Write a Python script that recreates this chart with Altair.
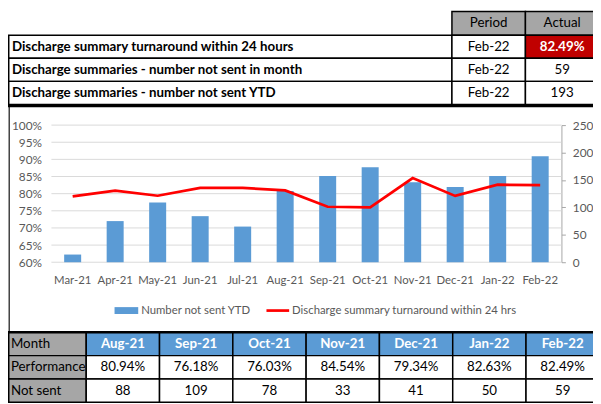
import altair as alt
import pandas as pd

# ---------------- data ----------------
months = ["Mar-21", "Apr-21", "May-21", "Jun-21", "Jul-21", "Aug-21",
          "Sep-21", "Oct-21", "Nov-21", "Dec-21", "Jan-22", "Feb-22"]
not_sent_ytd = [14, 75, 109, 84, 65, 130, 157, 173, 146, 137, 157, 193]
turnaround_pct = [79.2, 80.9, 79.4, 81.7, 81.7, 80.94, 76.18, 76.03, 84.54, 79.34, 82.63, 82.49]

left_ticks = [60, 65, 70, 75, 80, 85, 90, 95, 100]
right_ticks = [0, 50, 100, 150, 200, 250]

kpi_headers = ["Period", "Actual"]
kpi_labels = ["Discharge summary turnaround within 24 hours",
              "Discharge summaries - number not sent in month",
              "Discharge summaries - number not sent YTD"]
kpi_periods = ["Feb-22", "Feb-22", "Feb-22"]
kpi_actuals = ["82.49%", "59", "193"]

table_rows = ["Month", "Performance", "Not sent"]
table_months = ["Aug-21", "Sep-21", "Oct-21", "Nov-21", "Dec-21", "Jan-22", "Feb-22"]
table_performance = ["80.94%", "76.18%", "76.03%", "84.54%", "79.34%", "82.63%", "82.49%"]
table_not_sent = [88, 109, 78, 33, 41, 50, 59]

bar_name = "Number not sent YTD"
line_name = "Discharge summary turnaround within 24 hrs"

# ---------------- layout / style ----------------
W, H = 593, 396
PX0, PX1 = 44, 561          # plot area x
PY0, PY1 = 255, 116         # plot area y (bottom, top)
STEP = (PX1 - PX0) / len(months)
FONT = "Lato, 'Liberation Sans', sans-serif"
AXIS_GREY = "#595959"
BLUE = "#5b9bd5"
HEAD_GREY = "#a6a6a6"
TFS = 13.5   # table font size
AFS = 11.5   # axis font size
one = pd.DataFrame({"k": [0]})

series = pd.DataFrame({"month": months, "ytd": not_sent_ytd, "pct": turnaround_pct})

# ---------------- main chart ----------------
grid = alt.Chart(pd.DataFrame({"tick": left_ticks})).mark_rule(color="#d9d9d9", strokeWidth=1).encode(
    y=alt.Y("tick:Q", scale=alt.Scale(domain=[60, 100], range=[PY0, PY1], nice=False, zero=False), axis=None),
    x=alt.value(PX0), x2=alt.value(PX1))

bars = alt.Chart(series).mark_bar(color=BLUE).encode(
    x=alt.X("month:N", sort=months,
            scale=alt.Scale(domain=months, range=[PX0, PX1], paddingInner=0.6, paddingOuter=0.3),
            axis=alt.Axis(orient="bottom", offset=-(H - PY0), domain=False, ticks=False, tickSize=0,
                          labelPadding=13, labelColor=AXIS_GREY, labelFont=FONT, labelFontSize=AFS,
                          labelAngle=0, title=None, grid=False)),
    y=alt.Y("ytd:Q", scale=alt.Scale(domain=[0, 250], range=[PY0, PY1], nice=False),
            axis=alt.Axis(orient="right", offset=-(W - PX1), values=right_ticks, grid=False,
                          domainColor=HEAD_GREY, tickColor=HEAD_GREY, tickSize=4, labelPadding=7,
                          labelColor=AXIS_GREY, labelFont=FONT, labelFontSize=12, title=None)))

line = alt.Chart(series).mark_line(color="#ff0000", strokeWidth=2.75).encode(
    x=alt.X("month:N", sort=months,
            scale=alt.Scale(type="point", domain=months, range=[PX0 + STEP / 2, PX1 - STEP / 2], padding=0),
            axis=None),
    y=alt.Y("pct:Q", scale=alt.Scale(domain=[60, 100], range=[PY0, PY1], nice=False, zero=False),
            axis=alt.Axis(orient="left", offset=-PX0, values=left_ticks, labelExpr="datum.value + '%'",
                          domain=False, ticks=False, tickSize=0, labelPadding=10, grid=False,
                          labelColor=AXIS_GREY, labelFont=FONT, labelFontSize=12, title=None)))

# legend
leg_bar = alt.Chart(one).mark_rect(color=BLUE).encode(
    x=alt.value(108), x2=alt.value(132), y=alt.value(300.5), y2=alt.value(307.5))
leg_bar_txt = alt.Chart(pd.DataFrame({"t": [bar_name]})).mark_text(
    align="left", baseline="middle", font=FONT, fontSize=AFS, color=AXIS_GREY).encode(
    text="t:N", x=alt.value(135), y=alt.value(304))
leg_line = alt.Chart(one).mark_rule(color="#ff0000", strokeWidth=2.75).encode(
    x=alt.value(262), x2=alt.value(285), y=alt.value(304))
leg_line_txt = alt.Chart(pd.DataFrame({"t": [line_name]})).mark_text(
    align="left", baseline="middle", font=FONT, fontSize=AFS, color=AXIS_GREY).encode(
    text="t:N", x=alt.value(288), y=alt.value(304))

frame_left = alt.Chart(one).mark_rule(color="#404040", strokeWidth=1.5).encode(
    x=alt.value(1.25), y=alt.value(97), y2=alt.value(326))

# ---------------- top KPI table ----------------
kpi_head_df = pd.DataFrame({"h": kpi_headers})
head_x = alt.X("h:N", sort=kpi_headers,
               scale=alt.Scale(domain=kpi_headers, range=[450, 599], paddingInner=0, paddingOuter=0), axis=None)
kpi_head_cells = alt.Chart(kpi_head_df).mark_rect(fill=HEAD_GREY, stroke="black", strokeWidth=1.5).encode(
    x=head_x, y=alt.value(0.75), y2=alt.value(25))
kpi_head_text = alt.Chart(kpi_head_df).mark_text(
    font=FONT, fontSize=TFS, baseline="middle", align="center", color="black").encode(
    x=head_x, y=alt.value(13), text="h:N")

kpi_df = pd.DataFrame({"label": kpi_labels, "period": kpi_periods, "actual": kpi_actuals})
kpi_y = alt.Y("label:N", sort=kpi_labels,
              scale=alt.Scale(domain=kpi_labels, range=[25, 95], paddingInner=0, paddingOuter=0), axis=None)
cell = dict(stroke="black", strokeWidth=1.5)
kpi_label_cells = alt.Chart(kpi_df).mark_rect(fill="white", **cell).encode(
    y=kpi_y, x=alt.value(0.75), x2=alt.value(450))
kpi_period_cells = alt.Chart(kpi_df).mark_rect(fill="white", **cell).encode(
    y=kpi_y, x=alt.value(450), x2=alt.value(524.5))
kpi_actual_cells = alt.Chart(kpi_df).mark_rect(**cell).encode(
    y=kpi_y, x=alt.value(524.5), x2=alt.value(599),
    fill=alt.condition(alt.datum.label == kpi_labels[0], alt.value("#c00000"), alt.value("white")))
kpi_label_text = alt.Chart(kpi_df).mark_text(
    font=FONT, fontSize=TFS, fontWeight="bold", align="left", baseline="middle", color="black").encode(
    y=kpi_y, x=alt.value(4), text="label:N")
kpi_period_text = alt.Chart(kpi_df).mark_text(
    font=FONT, fontSize=TFS, align="center", baseline="middle", color="black").encode(
    y=kpi_y, x=alt.value(487.25), text="period:N")
kpi_actual_hi = alt.Chart(kpi_df).transform_filter(alt.datum.label == kpi_labels[0]).mark_text(
    font=FONT, fontSize=TFS, fontWeight="bold", align="center", baseline="middle", color="white").encode(
    y=kpi_y, x=alt.value(561.75), text="actual:N")
kpi_actual_txt = alt.Chart(kpi_df).transform_filter(alt.datum.label != kpi_labels[0]).mark_text(
    font=FONT, fontSize=TFS, align="center", baseline="middle", color="black").encode(
    y=kpi_y, x=alt.value(561.75), text="actual:N")
kpi_bottom = alt.Chart(one).mark_rule(color="black", strokeWidth=3).encode(
    x=alt.value(0), x2=alt.value(W), y=alt.value(96.5))

# ---------------- bottom monthly table ----------------
long_rows = []
for i, m in enumerate(table_months):
    long_rows.append({"month": m, "row": table_rows[0], "value": m})
    long_rows.append({"month": m, "row": table_rows[1], "value": table_performance[i]})
    long_rows.append({"month": m, "row": table_rows[2], "value": str(table_not_sent[i])})
tab_df = pd.DataFrame(long_rows)
row_df = pd.DataFrame({"row": table_rows})

tab_y = alt.Y("row:N", sort=table_rows,
              scale=alt.Scale(domain=table_rows, range=[326, 397], paddingInner=0, paddingOuter=0), axis=None)
tab_x = alt.X("month:N", sort=table_months,
              scale=alt.Scale(domain=table_months, range=[79.3, 599.4], paddingInner=0, paddingOuter=0),
              axis=None)
row_head_cells = alt.Chart(row_df).mark_rect(fill=HEAD_GREY, **cell).encode(
    y=tab_y, x=alt.value(0.75), x2=alt.value(79.3))
row_head_text = alt.Chart(row_df).mark_text(
    font=FONT, fontSize=TFS, align="left", baseline="middle", color="black").encode(
    y=tab_y, x=alt.value(3), text="row:N")
month_cells = alt.Chart(tab_df).mark_rect(**cell).encode(
    x=tab_x, y=tab_y,
    fill=alt.condition(alt.datum.row == table_rows[0], alt.value(BLUE), alt.value("white")))
month_head_text = alt.Chart(tab_df).transform_filter(alt.datum.row == table_rows[0]).mark_text(
    font=FONT, fontSize=TFS, fontWeight="bold", align="center", baseline="middle", color="white").encode(
    x=tab_x, y=tab_y, text="value:N")
month_body_text = alt.Chart(tab_df).transform_filter(alt.datum.row != table_rows[0]).mark_text(
    font=FONT, fontSize=TFS, align="center", baseline="middle", color="black").encode(
    x=tab_x, y=tab_y, text="value:N")
tab_top = alt.Chart(one).mark_rule(color="black", strokeWidth=2.5).encode(
    x=alt.value(0), x2=alt.value(W), y=alt.value(326))

chart = alt.layer(
    grid, bars, line,
    leg_bar, leg_bar_txt, leg_line, leg_line_txt, frame_left,
    kpi_head_cells, kpi_head_text,
    kpi_label_cells, kpi_period_cells, kpi_actual_cells,
    kpi_label_text, kpi_period_text, kpi_actual_hi, kpi_actual_txt, kpi_bottom,
    row_head_cells, month_cells, row_head_text, month_head_text, month_body_text, tab_top,
).resolve_scale(
    x="independent", y="independent"
).properties(
    width=W, height=H, padding=0, autosize=alt.AutoSizeParams(type="none")
).configure_view(stroke=None)

chart.save("out.html", embed_options={"renderer": "svg", "actions": False})
